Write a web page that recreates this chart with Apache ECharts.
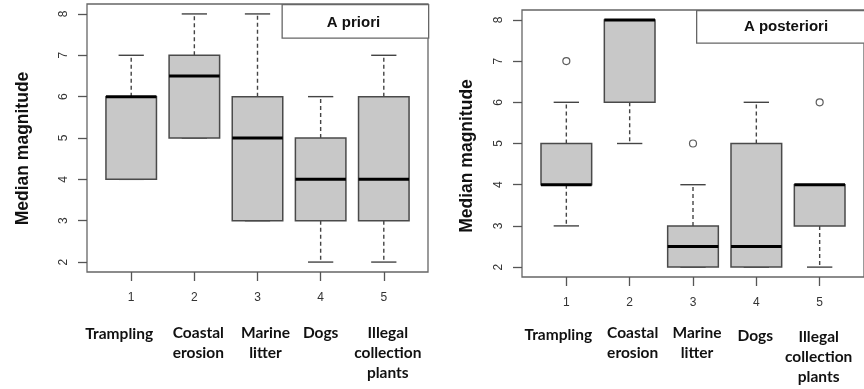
<!DOCTYPE html>
<html>
<head>
<meta charset="utf-8">
<script src="https://cdn.jsdelivr.net/npm/echarts@6/dist/echarts.min.js"></script>
<style>
  html, body { margin: 0; padding: 0; background: #fff; }
  #chart { width: 864px; height: 389px; }
</style>
</head>
<body>
<div id="chart"></div>
<script>
// Threat categories and their tick numbers
const categories = ['Trampling', 'Coastal\nerosion', 'Marine\nlitter', 'Dogs', 'Illegal\ncollection\nplants'];
const tickNumbers = [1, 2, 3, 4, 5];
const yTicks = [2, 3, 4, 5, 6, 7, 8];

// Box statistics per category: [lower whisker, Q1, median, Q3, upper whisker]
const aPrioriStats = [
  [4, 4, 6, 6, 7],
  [5, 5, 6.5, 7, 8],
  [3, 3, 5, 6, 8],
  [2, 3, 4, 5, 6],
  [2, 3, 4, 6, 7]
];
const aPosterioriStats = [
  [3, 4, 4, 5, 6],
  [5, 6, 8, 8, 8],
  [2, 2, 2.5, 3, 4],
  [2, 2, 2.5, 5, 6],
  [2, 3, 4, 4, 4]
];
// Outliers: [category number, value]
const aPosterioriOutliers = [[1, 7], [3, 5], [5, 6]];

const panelTitles = ['A priori', 'A posteriori'];
const yAxisTitle = 'Median magnitude';

const chart = echarts.init(document.getElementById('chart'), null, { renderer: 'canvas' });

const BOX_WIDTH = 0.8;   // in category units
const CAP_WIDTH = 0.4;
const BOX_FILL = '#c8c8c8';
const BOX_STROKE = '#4a4a4a';

function toSeriesData(stats) {
  return stats.map((s, i) => [tickNumbers[i]].concat(s));
}

function renderBox(params, api) {
  const x = api.value(0);
  const lo = api.value(1), q1 = api.value(2), med = api.value(3), q3 = api.value(4), hi = api.value(5);
  const cx = api.coord([x, med])[0];
  const halfBox = api.size([BOX_WIDTH, 0])[0] / 2;
  const halfCap = api.size([CAP_WIDTH, 0])[0] / 2;
  const yLo = api.coord([x, lo])[1];
  const yQ1 = api.coord([x, q1])[1];
  const yMed = api.coord([x, med])[1];
  const yQ3 = api.coord([x, q3])[1];
  const yHi = api.coord([x, hi])[1];
  const whiskerStyle = { stroke: '#444', lineWidth: 1.4, lineDash: [4, 3] };
  const capStyle = { stroke: '#444', lineWidth: 1.4 };
  return {
    type: 'group',
    children: [
      { type: 'line', shape: { x1: cx, y1: yQ3, x2: cx, y2: yHi }, style: whiskerStyle },
      { type: 'line', shape: { x1: cx, y1: yQ1, x2: cx, y2: yLo }, style: whiskerStyle },
      { type: 'line', shape: { x1: cx - halfCap, y1: yHi, x2: cx + halfCap, y2: yHi }, style: capStyle },
      { type: 'line', shape: { x1: cx - halfCap, y1: yLo, x2: cx + halfCap, y2: yLo }, style: capStyle },
      { type: 'rect', shape: { x: cx - halfBox, y: yQ3, width: halfBox * 2, height: yQ1 - yQ3 },
        style: { fill: BOX_FILL, stroke: BOX_STROKE, lineWidth: 1.5 } },
      { type: 'line', shape: { x1: cx - halfBox, y1: yMed, x2: cx + halfBox, y2: yMed },
        style: { stroke: '#000', lineWidth: 3 } }
    ]
  };
}

const numFont = { fontFamily: 'Liberation Sans', fontSize: 12, color: '#333' };

function xAxis(gridIndex) {
  return {
    type: 'value', gridIndex: gridIndex, min: 0.3, max: 5.7,
    axisLine: { show: false },
    axisTick: { show: true, customValues: tickNumbers, length: 9, lineStyle: { color: '#555', width: 1.3 } },
    axisLabel: Object.assign({ customValues: tickNumbers, margin: 20, formatter: v => String(v) }, numFont),
    splitLine: { show: false }
  };
}

function yAxis(gridIndex) {
  return {
    type: 'value', gridIndex: gridIndex, min: 1.76, max: 8.24,
    axisLine: { show: false },
    axisTick: { show: true, customValues: yTicks, length: 9, lineStyle: { color: '#555', width: 1.3 } },
    axisLabel: Object.assign({ customValues: yTicks, rotate: 90, margin: 17, formatter: v => String(v) }, numFont),
    splitLine: { show: false }
  };
}

const panelGraphics = [
  { type: 'rect', left: 281.5, top: 4, shape: { width: 146.5, height: 33.5 },
    style: { fill: '#fff', stroke: '#666', lineWidth: 1.3 }, z: 100 },
  { type: 'text', x: 353.5, y: 23, z: 101,
    style: { text: panelTitles[0], fontFamily: 'Liberation Sans', fontWeight: 'bold', fontSize: 15, fill: '#111',
             align: 'center', verticalAlign: 'middle' } },
  { type: 'rect', left: 696, top: 10, shape: { width: 200, height: 32.5 },
    style: { fill: '#fff', stroke: '#666', lineWidth: 1.3 }, z: 100 },
  { type: 'text', x: 786, y: 27, z: 101,
    style: { text: panelTitles[1], fontFamily: 'Liberation Sans', fontWeight: 'bold', fontSize: 15, fill: '#111',
             align: 'center', verticalAlign: 'middle' } },
  { type: 'text', x: 23, y: 148.5, rotation: Math.PI / 2,
    style: { text: yAxisTitle, fontFamily: 'Liberation Sans', fontWeight: 'bold', fontSize: 17.5, fill: '#111',
             align: 'center', verticalAlign: 'middle' } },
  { type: 'text', x: 467, y: 156, rotation: Math.PI / 2,
    style: { text: yAxisTitle, fontFamily: 'Liberation Sans', fontWeight: 'bold', fontSize: 17.5, fill: '#111',
             align: 'center', verticalAlign: 'middle' } }
];

const option = {
  backgroundColor: '#fff',
  animation: false,
  grid: [
    { left: 87, top: 4, width: 341, height: 268, show: true, borderColor: '#666', borderWidth: 1.3, backgroundColor: 'transparent' },
    { left: 522, top: 10, width: 350, height: 267, show: true, borderColor: '#666', borderWidth: 1.3, backgroundColor: 'transparent' }
  ],
  xAxis: [xAxis(0), xAxis(1)],
  yAxis: [yAxis(0), yAxis(1)],
  series: [
    { type: 'custom', xAxisIndex: 0, yAxisIndex: 0, renderItem: renderBox,
      encode: { x: 0, y: [1, 2, 3, 4, 5] }, data: toSeriesData(aPrioriStats) },
    { type: 'custom', xAxisIndex: 1, yAxisIndex: 1, renderItem: renderBox,
      encode: { x: 0, y: [1, 2, 3, 4, 5] }, data: toSeriesData(aPosterioriStats) },
    { type: 'scatter', xAxisIndex: 1, yAxisIndex: 1, symbol: 'circle', symbolSize: 7,
      itemStyle: { color: '#fff', borderColor: '#333', borderWidth: 1.2 },
      data: aPosterioriOutliers }
  ],
  graphic: panelGraphics
};

chart.setOption(option);

// Category names under each panel, placed below the numbered ticks with
// small hand-set nudges so the multi-line names sit like a typeset caption.
const captionLayout = [
  { axis: 0, top: 324, dx: [-12, 4, 8, 0, 4], dy: [0, -1, -1, -1, -1] },
  { axis: 1, top: 325, dx: [-8, 3, 4, -1, -1], dy: [0, -2, -2, 1, 2] }
];
const captionGraphics = [];
captionLayout.forEach(layout => {
  tickNumbers.forEach((t, i) => {
    const px = chart.convertToPixel({ xAxisIndex: layout.axis }, t);
    captionGraphics.push({
      type: 'text', x: px + layout.dx[i], y: layout.top + layout.dy[i],
      style: { text: categories[i], fontFamily: 'Lato', fontWeight: 'bold', fontSize: 15.5,
               lineHeight: 20, fill: '#111', align: 'center', verticalAlign: 'top' }
    });
  });
});
chart.setOption({ graphic: panelGraphics.concat(captionGraphics) });
</script>
</body>
</html>
